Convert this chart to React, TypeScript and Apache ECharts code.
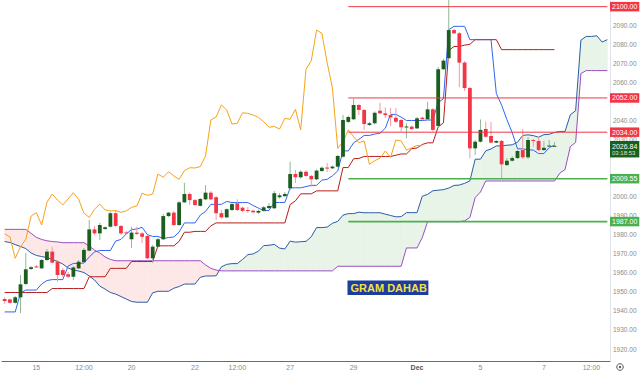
import { useEffect, useRef } from 'react';
import * as echarts from 'echarts';

// ---- candles ----
const opens = [
  1946.3, 1946.1, 1944.3, 1947.2, 1954.2, 1962.1, 1963.4, 1962.4, 1966.8, 1971.2,
  1965.9, 1961.5, 1959.3, 1958.0, 1962.4, 1965.7, 1971.7, 1982.9, 1980.8, 1983.1,
  1984.3, 1991.4, 1984.7, 1981.3, 1977.7, 1981.2, 1980.8, 1979.4, 1967.7, 1973.8,
  1977.7, 1989.9, 1991.7, 1985.2, 1997.1, 2001.5, 1998.3, 1995.3, 1998.7, 2002.2,
  1999.8, 1991.4, 1989.2, 1993.1, 1996.6, 1994.3, 1993.1, 1992.7, 1991.7, 1992.7,
  1994.1, 1994.0, 1999.8, 2000.4, 2004.5, 2012.0, 2010.3, 2013.2, 2011.0, 2009.2,
  2013.6, 2015.4, 2015.0, 2015.9, 2021.1, 2039.4, 2040.8, 2048.3, 2045.7, 2037.8,
  2038.7, 2045.3, 2043.9, 2043.0, 2041.6, 2040.4, 2036.7, 2036.9, 2036.0, 2041.6,
  2040.8, 2046.0, 2037.3, 2067.1, 2072.9, 2087.7, 2086.0, 2070.6, 2057.2, 2025.5,
  2029.0, 2035.7, 2032.0, 2028.5, 2029.4, 2016.7, 2019.0, 2020.4, 2024.6, 2020.8,
  2029.9, 2029.4, 2024.6, 2026.5, 2026.6,
];
const closes = [
  1945.2, 1944.3, 1947.2, 1954.0, 1961.9, 1963.0, 1963.1, 1966.8, 1971.2, 1965.4,
  1958.9, 1958.9, 1958.0, 1962.9, 1965.9, 1972.1, 1982.9, 1980.8, 1985.2, 1984.0,
  1991.4, 1984.7, 1980.8, 1981.0, 1981.2, 1980.5, 1979.0, 1967.7, 1973.8, 1977.7,
  1989.9, 1991.7, 1985.2, 1997.1, 2001.5, 1998.3, 1995.7, 1998.9, 2002.2, 1998.7,
  1991.4, 1989.2, 1993.5, 1996.2, 1993.1, 1992.6, 1992.8, 1991.9, 1992.6, 1994.5,
  1995.2, 2001.9, 2000.8, 2001.5, 2012.0, 2010.3, 2013.2, 2011.0, 2009.2, 2013.8,
  2015.3, 2015.2, 2015.9, 2021.5, 2040.4, 2042.0, 2048.3, 2045.7, 2038.3, 2038.7,
  2044.2, 2043.9, 2043.0, 2041.8, 2039.5, 2036.6, 2037.0, 2035.7, 2041.3, 2040.8,
  2046.0, 2035.2, 2067.1, 2071.6, 2087.7, 2086.0, 2070.6, 2057.2, 2025.5, 2029.0,
  2035.2, 2031.6, 2028.5, 2029.4, 2017.1, 2019.0, 2020.4, 2024.1, 2020.8, 2029.9,
  2029.4, 2024.6, 2025.8, 2027.0, 2026.84,
];
const lows = [
  1943.7, 1943.7, 1943.9, 1938.9, 1953.7, 1961.5, 1962.6, 1962.1, 1966.3, 1965.0,
  1955.4, 1957.9, 1957.3, 1956.3, 1962.1, 1965.2, 1971.5, 1979.9, 1977.3, 1982.7,
  1983.9, 1984.1, 1979.9, 1980.5, 1973.1, 1979.9, 1975.7, 1967.1, 1965.2, 1973.4,
  1977.3, 1989.4, 1984.7, 1984.7, 1996.8, 1995.7, 1995.2, 1994.9, 1998.3, 1998.3,
  1987.8, 1988.6, 1988.9, 1992.6, 1992.6, 1992.0, 1991.5, 1991.2, 1991.0, 1992.3,
  1993.6, 1993.6, 1999.1, 1999.9, 2003.6, 2007.3, 2009.6, 2010.4, 2005.3, 2008.9,
  2013.1, 2013.1, 2014.6, 2015.4, 2020.7, 2038.8, 2040.4, 2043.0, 2035.2, 2037.3,
  2038.3, 2043.6, 2041.5, 2037.3, 2038.8, 2034.3, 2030.8, 2035.2, 2035.7, 2040.4,
  2040.4, 2034.3, 2036.2, 2066.7, 2072.5, 2085.6, 2057.8, 2055.7, 2020.3, 2022.0,
  2028.6, 2031.2, 2028.1, 2028.2, 2009.8, 2016.2, 2018.6, 2019.9, 2019.9, 2019.9,
  2026.4, 2024.1, 2024.1, 2025.7, 2026.5,
];
const highs = [
  1947.3, 1946.4, 1947.9, 1958.9, 1970.6, 1963.6, 1964.2, 1967.3, 1972.6, 1973.8,
  1966.8, 1962.6, 1960.5, 1963.6, 1966.8, 1973.1, 1987.8, 1984.7, 1986.4, 1984.4,
  1992.1, 1993.1, 1985.2, 1982.0, 1984.3, 1984.3, 1981.5, 1979.9, 1974.7, 1978.4,
  1991.0, 1992.0, 1992.6, 1997.8, 2007.4, 2002.3, 1998.9, 1999.4, 2006.2, 2003.1,
  2000.4, 1993.1, 1993.9, 1996.8, 1998.7, 1994.9, 1994.7, 1993.3, 1993.3, 1995.2,
  1996.8, 2003.1, 2002.0, 2002.6, 2018.5, 2014.1, 2013.9, 2013.9, 2011.5, 2014.4,
  2016.0, 2017.8, 2016.5, 2022.0, 2043.0, 2042.8, 2051.5, 2048.8, 2046.2, 2039.4,
  2044.9, 2049.5, 2047.0, 2046.7, 2046.7, 2040.9, 2038.7, 2037.5, 2042.0, 2042.2,
  2050.0, 2046.7, 2068.3, 2072.5, 2145.0, 2088.3, 2086.7, 2071.4, 2057.8, 2029.9,
  2040.7, 2039.6, 2039.4, 2029.7, 2029.9, 2020.4, 2021.5, 2024.6, 2035.7, 2031.5,
  2030.4, 2031.6, 2029.4, 2029.9, 2028.8,
];

// ---- Ichimoku lines ----
const tenkan = [
  1939.5, 1939.5, 1939.5, 1949.4, 1951.0, 1951.0, 1951.0, 1954.2, 1956.0, 1956.5,
  1956.5, 1956.5, 1963.6, 1965.0, 1965.0, 1965.2, 1968.4, 1971.0, 1971.8, 1971.8,
  1971.8, 1976.8, 1977.6, 1980.5, 1982.8, 1983.1, 1984.0, 1980.1, 1979.2, 1979.2,
  1978.1, 1978.6, 1978.9, 1981.5, 1986.3, 1986.3, 1986.3, 1990.4, 1992.35, 1996.05,
  1996.05, 1996.05, 1997.6, 1997.0, 1997.0, 1997.0, 1997.0, 1995.45, 1994.1, 1992.7,
  1992.85, 1997.05, 1997.05, 1997.05, 2004.75, 2004.75, 2004.75, 2005.4, 2006.05, 2006.05,
  2008.8, 2009.2, 2011.05, 2013.65, 2024.15, 2024.15, 2028.4, 2030.2, 2032.3, 2032.3,
  2033.05, 2033.45, 2036.1, 2043.35, 2043.35, 2041.9, 2040.15, 2040.15, 2040.15, 2040.15,
  2040.4, 2040.4, 2049.55, 2051.65, 2087.9, 2089.65, 2089.65, 2089.65, 2082.65, 2082.65,
  2082.65, 2082.65, 2082.65, 2054.3, 2048.25, 2040.6, 2033.8, 2025.25, 2025.25, 2024.7,
  2024.6, 2022.75, 2022.75, 2025.95, 2027.15,
];
const kijun = [
  1949.7, 1949.7, 1949.7, 1949.7, 1949.7, 1949.7, 1949.7, 1949.7, 1949.7, 1951.8,
  1951.8, 1951.8, 1951.8, 1951.8, 1951.8, 1951.8, 1958.0, 1958.0, 1958.0, 1958.0,
  1962.4, 1962.4, 1962.4, 1962.4, 1966.0, 1966.0, 1966.0, 1966.0, 1966.0, 1974.25,
  1974.25, 1974.25, 1974.25, 1976.6, 1981.4, 1981.4, 1981.85, 1981.85, 1981.85, 1984.75,
  1986.3, 1986.3, 1986.3, 1986.3, 1986.3, 1986.3, 1986.3, 1986.3, 1986.3, 1986.3,
  1986.3, 1986.3, 1986.3, 1986.3, 1995.95, 1997.9, 2001.6, 2001.6, 2001.6, 2003.15,
  2003.15, 2003.15, 2003.15, 2003.15, 2015.4, 2015.4, 2020.05, 2020.2, 2021.25, 2021.25,
  2021.25, 2021.25, 2021.25, 2021.25, 2021.9, 2022.55, 2022.55, 2025.3, 2025.7, 2027.55,
  2028.4, 2028.4, 2036.8, 2038.9, 2076.95, 2079.05, 2079.05, 2079.8, 2080.2, 2082.65,
  2082.65, 2082.65, 2082.65, 2082.65, 2077.4, 2077.4, 2077.4, 2077.4, 2077.4, 2077.4,
  2077.4, 2077.4, 2077.4, 2077.4, 2077.4,
];
const spanA = [
  1976.5, 1976.0, 1974.9, 1973.9, 1972.8, 1970.5, 1969.2, 1968.6, 1968.1, 1967.1,
  1966.0, 1964.7, 1962.6, 1961.5, 1961.0, 1960.2, 1958.4, 1956.3, 1953.1, 1951.5,
  1949.7, 1948.9, 1947.6, 1946.3, 1945.0, 1944.6, 1944.6, 1944.6, 1949.55, 1950.35,
  1950.35, 1950.35, 1951.95, 1952.85, 1954.15, 1954.15, 1954.15, 1957.7, 1958.4, 1958.4,
  1958.5, 1963.2, 1964.5, 1964.9, 1964.9, 1967.1, 1969.6, 1970.0, 1971.45, 1974.4,
  1974.55, 1975.0, 1973.05, 1972.6, 1976.7, 1976.2, 1976.4, 1976.6, 1979.05, 1983.85,
  1983.85, 1984.1, 1986.1, 1987.1, 1990.4, 1991.2, 1991.2, 1991.95, 1991.65, 1991.65,
  1991.65, 1991.65, 1990.9, 1990.2, 1989.5, 1989.6, 1991.7, 1991.7, 1991.7, 2000.35,
  2001.3, 2003.2, 2003.5, 2003.8, 2004.6, 2006.0, 2006.2, 2007.1, 2008.4, 2019.8,
  2019.8, 2024.2, 2025.2, 2026.8, 2026.8, 2027.15, 2027.35, 2028.7, 2032.3, 2032.6,
  2032.2, 2031.35, 2032.7, 2032.9, 2033.85, 2034.4, 2034.4, 2043.2, 2045.3, 2082.4,
  2084.35, 2084.35, 2084.7, 2081.4, 2082.65,
];
const spanB = [
  1982.9, 1982.9, 1982.9, 1982.9, 1982.9, 1980.8, 1978.7, 1977.6, 1976.9, 1976.5,
  1976.3, 1975.9, 1975.9, 1975.9, 1975.9, 1975.9, 1974.1, 1972.0, 1970.5, 1968.4,
  1967.1, 1966.4, 1966.4, 1966.4, 1966.4, 1966.4, 1966.4, 1966.4, 1966.4, 1966.4,
  1966.4, 1966.4, 1966.4, 1966.4, 1966.4, 1966.4, 1966.4, 1966.4, 1964.2, 1962.4,
  1961.5, 1961.1, 1961.1, 1961.1, 1961.1, 1961.1, 1961.1, 1961.1, 1961.1, 1961.1,
  1961.1, 1961.1, 1961.1, 1961.1, 1961.1, 1961.1, 1961.1, 1961.1, 1961.1, 1961.1,
  1961.1, 1961.1, 1961.1, 1963.5, 1963.5, 1963.5, 1963.5, 1963.5, 1963.5, 1963.5,
  1963.5, 1963.5, 1963.5, 1963.5, 1963.5, 1963.5, 1973.15, 1973.15, 1973.15, 1978.7,
  1986.95, 1986.95, 1986.95, 1986.95, 1986.95, 1986.95, 1986.95, 1987.4, 1989.15, 1999.65,
  2002.55, 2008.35, 2008.35, 2008.35, 2008.35, 2008.35, 2008.35, 2008.35, 2008.35, 2008.35,
  2008.35, 2008.35, 2008.35, 2008.35, 2008.35, 2012.45, 2014.4, 2026.5, 2028.6, 2064.85,
  2066.4, 2066.4, 2066.4, 2066.4, 2066.4,
];
const laggingShift = 25;

// ---- levels & labels ----
const resistanceLevels = [2100, 2052, 2034];
const supportLevels = [2009.55, 1987];
const levelStartIndex = 65;
const slotCount = 115;
const tickIndex = [6, 15, 24, 36, 44, 54, 66, 78, 90, 102, 111];
const tickText = ['15', '12:00', '20', '22', '12:00', '27', '29', 'Dec', '5', '7', '12:00'];
const coveredAxisLabels = [2100, 2050, 2020, 2010];
const lastPrice = 2026.84;
const countdown = '03:18:53';
const titleText = 'GRAM DAHAB';

const FONT = 'Liberation Sans, Arial, sans-serif';
const RED = '#f23645';
const GREEN_LVL = '#4caf50';
const CLEAR = 'rgba(0,0,0,0)';

export default function App() {
  const ref = useRef<HTMLDivElement>(null);
  useEffect(() => {
    if (!ref.current) return;
    const chart = echarts.init(ref.current, null, { renderer: 'svg' });
    const cats = Array.from({ length: slotCount }, (_, i) => String(i));
    const candleData = opens.map((o, i) => [i, o, closes[i], lows[i], highs[i]]);
    const cloudData = spanA.slice(0, -1).map((a, i) => [i, a, spanB[i], spanA[i + 1], spanB[i + 1]]);
    const chikou = closes.slice(laggingShift);
    const lastIdx = slotCount - 1;

    const badge = (v: number, bg: string) => ({
      silent: true,
      symbol: ['none', 'none'],
      lineStyle: { color: CLEAR, width: 1, type: 'solid' },
      emphasis: { disabled: true },
      label: {
        show: true, position: 'end', distance: 0,
        formatter: v.toFixed(2),
        backgroundColor: bg, color: '#fff', fontSize: 7, fontFamily: FONT,
        padding: [1.5, 2, 1, 2], lineHeight: 7,
      },
      data: [{ yAxis: v }],
    });

    const levelSeries = [
      ...resistanceLevels.map((v) => ({ v, c: RED, w: 1 })),
      ...supportLevels.map((v) => ({ v, c: GREEN_LVL, w: 1.6 })),
    ].map(({ v, c, w }) => ({
      type: 'line', data: [[levelStartIndex, v], [lastIdx, v]],
      symbol: 'none', lineStyle: { color: c, width: w }, z: 8, silent: true,
      markLine: badge(v, c),
    }));

    chart.setOption({
      animation: false,
      backgroundColor: '#ffffff',
      textStyle: { fontFamily: FONT },
      title: {
        text: titleText, left: 347.5, top: 280.5,
        backgroundColor: '#1c3c9e', padding: [1.5, 1.5, 1, 3],
        textStyle: { color: '#f6e03c', fontSize: 11, fontWeight: 'bold', fontFamily: FONT, lineHeight: 12 },
      },
      grid: { left: 2, right: 30, top: 0, bottom: 13 },
      xAxis: {
        type: 'category', data: cats, boundaryGap: true,
        axisTick: { show: false },
        axisLine: { lineStyle: { color: '#6b6b6b', width: 1 } },
        splitLine: { show: false },
        axisLabel: {
          interval: 0, fontSize: 7, color: '#8a8a8a', margin: 3,
          formatter: (_v: string, idx: number) => {
            const k = tickIndex.indexOf(idx);
            if (k < 0) return '';
            return tickText[k] === 'Dec' ? '{b|Dec}' : tickText[k];
          },
          rich: { b: { fontWeight: 'bold', color: '#555', fontSize: 7, fontFamily: FONT } },
        },
      },
      yAxis: {
        type: 'value', position: 'right', min: 1913.7, max: 2103.5,
        splitNumber: 19, minInterval: 10, maxInterval: 10, scale: true,
        axisLine: { show: true, lineStyle: { color: '#e0e3eb' } },
        axisTick: { show: false }, splitLine: { show: false },
        axisLabel: {
          fontSize: 6.5, color: '#8a8a8a', margin: 3, showMinLabel: false, showMaxLabel: false,
          formatter: (v: number) => (coveredAxisLabels.some((c) => Math.abs(c - v) < 0.01) ? '' : v.toFixed(2)),
        },
      },
      graphic: [
        { type: 'circle', shape: { cx: 620, cy: 367, r: 3.3 }, style: { fill: 'none', stroke: '#555', lineWidth: 1 } },
        { type: 'circle', shape: { cx: 620, cy: 367, r: 1.2 }, style: { fill: '#555' } },
      ],
      series: [
        {
          type: 'custom', name: 'cloud', data: cloudData, clip: true, silent: true, z: 1,
          encode: { x: 0, y: [1, 2] },
          renderItem: (_p: any, api: any) => {
            const i = api.value(0);
            const a0 = api.value(1), b0 = api.value(2), a1 = api.value(3), b1 = api.value(4);
            const d0 = a0 - b0, d1 = a1 - b1;
            const P = (x: number, v: number) => api.coord([x, v]);
            const G = '#e9f4e9', K = '#fde7e7';
            const polys: { pts: number[][]; up: boolean }[] = [];
            if (d0 * d1 >= 0) {
              polys.push({ pts: [P(i, a0), P(i + 1, a1), P(i + 1, b1), P(i, b0)], up: d0 + d1 >= 0 });
            } else {
              const t = d0 / (d0 - d1);
              const xm = i + t, vm = a0 + (a1 - a0) * t;
              polys.push({ pts: [P(i, a0), P(xm, vm), P(i, b0)], up: d0 > 0 });
              polys.push({ pts: [P(xm, vm), P(i + 1, a1), P(i + 1, b1)], up: d1 > 0 });
            }
            return {
              type: 'group',
              children: polys.map((p) => ({
                type: 'polygon', shape: { points: p.pts },
                style: { fill: p.up ? G : K, stroke: p.up ? G : K, lineWidth: 0.6 },
              })),
            };
          },
        },
        { type: 'line', name: 'spanA', data: spanA, symbol: 'none', lineStyle: { color: '#2b5ea7', width: 1 }, z: 3, silent: true },
        { type: 'line', name: 'spanB', data: spanB, symbol: 'none', lineStyle: { color: '#9c4fc4', width: 1 }, z: 3, silent: true },
        { type: 'line', name: 'kijun', data: kijun, symbol: 'none', lineStyle: { color: '#b71c1c', width: 1 }, z: 4, silent: true },
        {
          type: 'line', name: 'tenkan', data: tenkan, symbol: 'none', lineStyle: { color: '#2f66f2', width: 1 }, z: 4, silent: true,
          markLine: {
            silent: true, symbol: ['none', 'none'], lineStyle: { color: CLEAR, width: 1, type: 'solid' },
            emphasis: { disabled: true },
            label: {
              show: true, position: 'end', distance: 0, offset: [0, 3.4],
              formatter: `{a|${lastPrice.toFixed(2)}}\n{b|${countdown}}`,
              backgroundColor: '#1b5e20', padding: [1.5, 2, 1, 2],
              rich: {
                a: { color: '#fff', fontSize: 7, lineHeight: 7.5, fontFamily: FONT },
                b: { color: '#d5e6d5', fontSize: 6, lineHeight: 6.5, fontFamily: FONT },
              },
            },
            data: [{ yAxis: lastPrice }],
          },
        },
        { type: 'line', name: 'chikou', data: chikou, symbol: 'none', lineStyle: { color: '#f7a21b', width: 1 }, z: 4, silent: true },
        {
          type: 'custom', name: 'candles', data: candleData, clip: true, silent: true, z: 6,
          encode: { x: 0, y: [1, 2, 3, 4] },
          renderItem: (_p: any, api: any) => {
            const i = api.value(0);
            const o = api.value(1), c = api.value(2), l = api.value(3), h = api.value(4);
            const pO = api.coord([i, o]), pC = api.coord([i, c]);
            const pL = api.coord([i, l]), pH = api.coord([i, h]);
            const w = api.size([1, 0])[0] * 0.72;
            const up = c >= o;
            const top = Math.min(pO[1], pC[1]);
            const bot = Math.max(pO[1], pC[1]);
            return {
              type: 'group',
              children: [
                { type: 'line', shape: { x1: pH[0], y1: pH[1], x2: pL[0], y2: pL[1] }, style: { stroke: up ? '#93b893' : '#f39aa2', lineWidth: 1 } },
                { type: 'rect', shape: { x: pO[0] - w / 2, y: top, width: w, height: Math.max(bot - top, 1) }, style: { fill: up ? '#1b5e20' : RED } },
              ],
            };
          },
        },
        ...levelSeries,
      ],
    });
    return () => chart.dispose();
  }, []);
  return <div ref={ref} style={{ position: 'fixed', left: 0, top: 0, width: 640, height: 374, background: '#fff' }} />;
}
